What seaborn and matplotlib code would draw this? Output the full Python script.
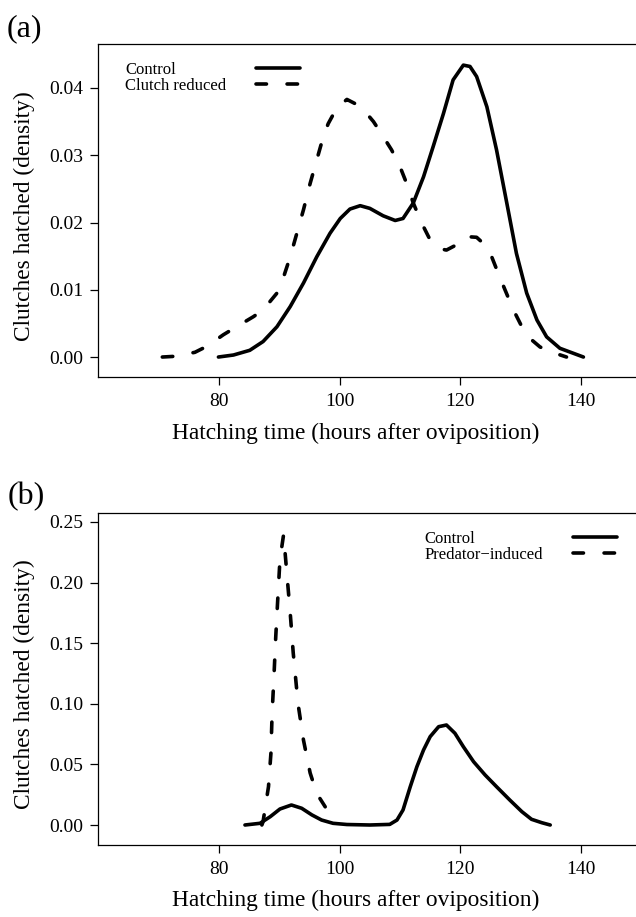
import matplotlib
matplotlib.use("Agg")
import matplotlib.pyplot as plt
import pandas as pd
import seaborn as sns

# panel (a): control vs clutch reduced
a_ctrl_x = [79.9, 82.4, 85.1, 87.3, 89.6, 91.8, 94.0, 96.2, 98.4, 100.1, 101.7, 103.4, 105.0, 107.2,
            109.2, 110.5, 112.2, 113.9, 115.5, 117.2, 118.8, 120.5, 121.6, 122.7, 124.4, 126.0,
            127.7, 129.3, 131.0, 132.7, 134.3, 136.5, 140.4]
a_ctrl_y = [0.0, 0.0003, 0.0010, 0.0023, 0.0045, 0.0075, 0.0110, 0.0149, 0.0184, 0.0206, 0.0220,
            0.0225, 0.0221, 0.0210, 0.0203, 0.0206, 0.0229, 0.0268, 0.0313, 0.0362, 0.0412, 0.0434,
            0.0432, 0.0417, 0.0372, 0.0308, 0.0229, 0.0154, 0.0095, 0.0055, 0.0030, 0.0013, 0.0]
a_red_x = [70.6, 72.6, 76.0, 78.0, 80.7, 82.9, 85.7, 87.3, 89.6, 90.7, 91.8, 92.9, 94.0, 95.1, 96.2,
           97.3, 98.1, 99.5, 101.2, 102.5, 104.2, 105.6, 107.2, 108.6, 110.0, 111.1, 112.2, 113.6,
           115.0, 116.6, 117.7, 119.4, 121.1, 122.7, 123.8, 125.2, 126.3, 127.4, 128.8, 130.2,
           131.5, 133.2, 134.9, 137.6]
a_red_y = [0.0, 0.0001, 0.0007, 0.0016, 0.0033, 0.0045, 0.0060, 0.0070, 0.0095, 0.0119, 0.0149,
           0.0184, 0.0219, 0.0258, 0.0293, 0.0328, 0.0347, 0.0370, 0.0383, 0.0377, 0.0365, 0.0350,
           0.0328, 0.0308, 0.0283, 0.0258, 0.0229, 0.0199, 0.0174, 0.0161, 0.0159, 0.0167, 0.0179,
           0.0178, 0.0169, 0.0149, 0.0124, 0.0100, 0.0070, 0.0045, 0.0028, 0.0015, 0.0008, 0.0]

# panel (b): control vs predator-induced
b_ctrl_x = [84.3, 86.8, 88.5, 90.1, 92.0, 93.7, 95.4, 97.0, 98.9, 101.2, 105.0, 108.3, 109.5, 110.5,
            111.7, 112.8, 113.9, 115.0, 116.4, 117.7, 119.1, 120.5, 122.2, 124.1, 126.0, 128.2,
            130.2, 131.8, 133.5, 134.9]
b_ctrl_y = [0.0, 0.0014, 0.0069, 0.0132, 0.0165, 0.0138, 0.0083, 0.0041, 0.0014, 0.0004, 0.0, 0.0005,
            0.0041, 0.0124, 0.0316, 0.0481, 0.0619, 0.0729, 0.0811, 0.0825, 0.0757, 0.0646, 0.0522,
            0.0413, 0.0316, 0.0206, 0.0110, 0.0047, 0.0019, 0.0]
b_pred_x = [87.1, 87.3, 88.2, 88.6, 88.8, 89.1, 89.4, 89.7, 90.1, 90.7, 91.2, 91.8, 92.3, 93.1, 94.0,
            95.1, 96.2, 97.6]
b_pred_y = [0.0, 0.0027, 0.0316, 0.059, 0.092, 0.122, 0.155, 0.183, 0.219, 0.2395, 0.210, 0.175,
            0.142, 0.100, 0.070, 0.043, 0.026, 0.015]

x_ticks = [80, 100, 120, 140]
a_y_ticks = [0.00, 0.01, 0.02, 0.03, 0.04]
b_y_ticks = [0.00, 0.05, 0.10, 0.15, 0.20, 0.25]

sns.set_theme(style="ticks", rc={
    "axes.edgecolor": "black", "axes.linewidth": 0.9,
    "xtick.color": "black", "ytick.color": "black",
    "text.color": "black", "axes.labelcolor": "black",
    "lines.solid_capstyle": "round", "lines.dash_capstyle": "round",
    "lines.solid_joinstyle": "round", "lines.dash_joinstyle": "round",
})
plt.rcParams["font.family"] = ["Liberation Serif", "DejaVu Serif"]

W, H = 636, 917
fig = plt.figure(figsize=(W / 100, H / 100), dpi=100)


def px_axes(left, top, right, bottom):
    return fig.add_axes([left / W, 1 - bottom / H, (right - left) / W, (bottom - top) / H])


def draw_panel(ax, names, xs, ys, ylim, yticks):
    df = pd.concat([pd.DataFrame({"t": x, "d": y, "grp": n}) for n, x, y in zip(names, xs, ys)])
    sns.lineplot(data=df, x="t", y="d", style="grp", style_order=names,
                 dashes={names[0]: "", names[1]: (2.9, 5.7)},
                 color="black", linewidth=2.6, errorbar=None, legend=False, ax=ax)
    ax.set_xlim(59.94, 149.78)
    ax.set_ylim(*ylim)
    ax.set_xticks(x_ticks)
    ax.set_yticks(yticks)
    ax.set_yticklabels([f"{v:.2f}" for v in yticks])
    ax.tick_params(axis="both", direction="out", length=5.8, width=0.9, labelsize=14)
    ax.tick_params(axis="x", pad=6)
    ax.tick_params(axis="y", pad=5)
    ax.set_xlabel("Hatching time (hours after oviposition)", fontsize=16.8)
    ax.set_ylabel("Clutches hatched (density)", fontsize=16.8)
    ax.xaxis.label.set_va("center")
    ax.yaxis.label.set_va("center")
    for s in ax.spines.values():
        s.set_visible(True)


def add_legend(ax, names, anchor, loc):
    leg = ax.legend(ax.lines[:2], names, loc=loc, bbox_to_anchor=anchor,
                    bbox_transform=fig.transFigure, frameon=False, markerfirst=False,
                    fontsize=12, handlelength=2.66, handletextpad=1.8,
                    labelspacing=0.0, borderpad=0, borderaxespad=0)
    return leg


# panel (a)
ax_a = px_axes(98, 44, 640, 377)
names_a = ["Control", "Clutch reduced"]
draw_panel(ax_a, names_a, [a_ctrl_x, a_red_x], [a_ctrl_y, a_red_y], (-0.00297, 0.04654), a_y_ticks)
ax_a.xaxis.set_label_coords((356 - 98) / 542, (377 - 433) / 333)
ax_a.yaxis.set_label_coords((24 - 98) / 542, (377 - 216) / 333)
leg_a = add_legend(ax_a, names_a, (125 / W, 1 - 62 / H), "upper left")

# panel (b)
ax_b = px_axes(98, 513, 640, 845)
names_b = ["Control", "Predator\u2212induced"]
draw_panel(ax_b, names_b, [b_ctrl_x, b_pred_x], [b_ctrl_y, b_pred_y], (-0.0165, 0.2574), b_y_ticks)
ax_b.xaxis.set_label_coords((356 - 98) / 542, (845 - 900) / 332)
ax_b.yaxis.set_label_coords((24 - 98) / 542, (845 - 684) / 332)
leg_b = add_legend(ax_b, names_b, (617 / W, 1 - 531 / H), "upper right")

fig.text(7 / W, 1 - 28.5 / H, "(a)", fontsize=23, ha="left", va="center")
fig.text(8 / W, 1 - 497 / H, "(b)", fontsize=23, ha="left", va="center")

# left-align legend labels while keeping the line keys in one column (like R's legend)
fig.canvas.draw()
renderer = fig.canvas.get_renderer()
for leg in (leg_a, leg_b):
    widths = [t.get_window_extent(renderer).width for t in leg.get_texts()]
    rows = leg._legend_handle_box.get_children()[0].get_children()
    for row, w in zip(rows, widths):
        row.sep += (max(widths) - w) * 72 / fig.dpi

fig.savefig("out.png", dpi=100)
